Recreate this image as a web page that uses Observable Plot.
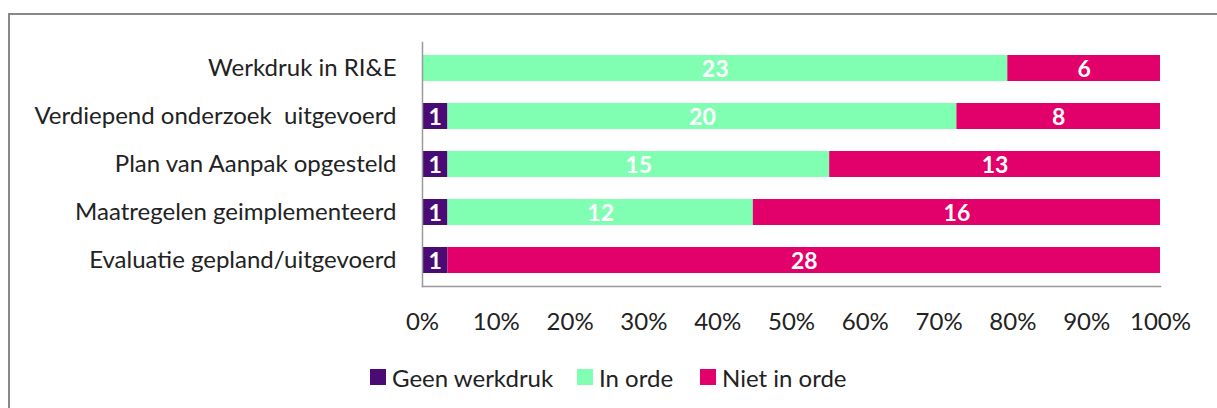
<!DOCTYPE html>
<html>
<head>
<meta charset="utf-8">
<script src="https://cdn.jsdelivr.net/npm/d3@7"></script>
<script src="https://cdn.jsdelivr.net/npm/@observablehq/plot@0.6"></script>
<style>
  html, body { margin: 0; padding: 0; background: #fff; }
  #wrap { position: relative; width: 1217px; height: 408px; overflow: hidden; font-family: Lato, "Open Sans", sans-serif; }
  #frame { position: absolute; left: 8px; top: 13px; width: 1240px; height: 420px; border: 2px solid #888; box-sizing: border-box; }
  #chart { position: absolute; left: 0; top: 0; }
  #legend { position: absolute; top: 362px; left: 0; width: 1217px; height: 30px; font-size: 24px; color: #222; }
  .item { position: absolute; top: 0; display: flex; align-items: center; height: 30px; }
  .sw { width: 16px; height: 16px; margin-right: 6px; }
</style>
</head>
<body>
<div id="wrap">
  <div id="frame"></div>
  <div id="chart"></div>
  <div id="legend"></div>
</div>
<script>
const categories = [
  "Werkdruk in RI&E",
  "Verdiepend onderzoek  uitgevoerd",
  "Plan van Aanpak opgesteld",
  "Maatregelen geimplementeerd",
  "Evaluatie gepland/uitgevoerd"
];
const statuses = ["Geen werkdruk", "In orde", "Niet in orde"];
const geenWerkdruk = [0, 1, 1, 1, 1];
const inOrde = [23, 20, 15, 12, 0];
const nietInOrde = [6, 8, 13, 16, 28];
const colors = ["#4B0B75", "#80FFB3", "#E2006A"];
const xTicks = [0, 0.1, 0.2, 0.3, 0.4, 0.5, 0.6, 0.7, 0.8, 0.9, 1];

const series = [geenWerkdruk, inOrde, nietInOrde];
const data = [];
categories.forEach((c, i) => {
  statuses.forEach((s, j) => data.push({cat: c, status: s, value: series[j][i]}));
});

const chart = Plot.plot({
  width: 1217,
  height: 345,
  marginLeft: 422,
  marginRight: 57,
  marginTop: 42,
  marginBottom: 59,
  style: {fontFamily: "Lato, 'Open Sans', sans-serif", fontSize: "24px", color: "#222", background: "transparent"},
  x: {domain: [0, 1], ticks: xTicks, tickFormat: d => Math.round(d * 100) + "%", tickSize: 0, tickPadding: 26, label: null},
  y: {domain: categories, tickSize: 0, tickPadding: 26, label: null, paddingInner: 0.45, paddingOuter: 0.225},
  color: {domain: statuses, range: colors},
  marks: [
    Plot.barX(data, Plot.stackX({x: "value", y: "cat", fill: "status", offset: "normalize", order: statuses})),
    Plot.text(data, Plot.stackX({
      x: "value", y: "cat", z: "status", offset: "normalize", order: statuses,
      text: d => d.value > 0 ? String(d.value) : "",
      fill: "white", fontWeight: "bold", fontSize: 23, dy: 1
    })),
    Plot.frame({anchor: "left", stroke: "#999", strokeWidth: 1.5}),
    Plot.frame({anchor: "bottom", stroke: "#999", strokeWidth: 1.5})
  ]
});
document.getElementById("chart").appendChild(chart);

const legendPos = [370, 577, 700];
const legend = document.getElementById("legend");
statuses.forEach((s, i) => {
  const it = document.createElement("div");
  it.className = "item";
  it.style.left = legendPos[i] + "px";
  it.innerHTML = `<div class="sw" style="background:${colors[i]}"></div><span>${s}</span>`;
  legend.appendChild(it);
});
</script>
</body>
</html>
